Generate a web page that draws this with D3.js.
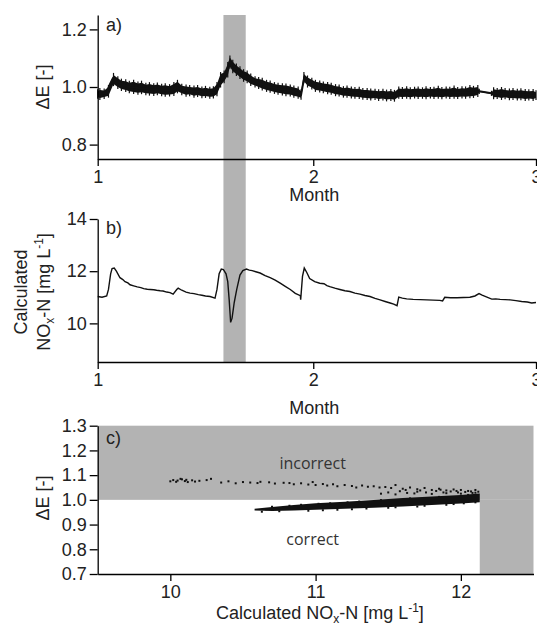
<!DOCTYPE html>
<html>
<head>
<meta charset="utf-8">
<script src="https://cdn.jsdelivr.net/npm/d3@7"></script>
<style>
  body { margin: 0; background: #fff; }
  svg { font-family: "Liberation Sans", Arial, sans-serif; }
  .domain, .tick line { stroke: #000; stroke-width: 1.3; }
  .tick text { fill: #222; }
</style>
</head>
<body>
<div id="chart"></div>
<script>
// month ticks (days since start of month 1)
const monthTicks = [0, 30, 61];
const monthLabels = ["1", "2", "3"];
const highlight = [17.5, 20.6];

// panel a: delta E, centre trace [day, value]
const dE = [[0,0.977],[1.2,0.978],[1.7,1.01],[2.1,1.03],[2.6,1.02],[3.5,1.008],[4.5,1.0],[5.9,0.996],[7.3,0.992],[9,0.99],
  [10.4,0.988],[11,1.0],[11.6,0.99],[13,0.986],[15,0.982],[16.3,0.98],[16.8,1.0],[17.4,1.035],[17.9,1.05],[18.4,1.09],
  [18.9,1.075],[19.6,1.055],[20.7,1.035],[22.6,1.012],[24,1.0],[25.4,0.993],[26.8,0.988],[28.1,0.978],[28.3,0.972],
  [28.75,1.035],[29.5,1.02],[30.9,1.003],[32.3,0.995],[33.7,0.988],[35.1,0.983],[36.5,0.979],[37.9,0.975],[39.3,0.972],
  [41.5,0.97],[41.9,0.98],[44.9,0.979],[47.6,0.979],[50.4,0.98],[52.5,0.982],[53.1,0.985],[54.8,0.978],[57.4,0.975],[61,0.971]];
// noise envelope [day, low, high]
const dENoise = [[0,0.966,0.985],[0.3,0.962,0.99],[0.9,0.965,0.988],[1.5,0.97,1.0],[2.2,1.01,1.042],[2.8,1.0,1.03],[3.3,0.993,1.022],[3.9,0.99,1.02],
  [4.4,0.985,1.015],[5.0,0.983,1.018],[5.6,0.98,1.012],[6.1,0.982,1.015],[6.7,0.978,1.008],[7.2,0.977,1.01],[7.8,0.976,1.006],
  [8.3,0.978,1.009],[8.9,0.975,1.004],[9.4,0.973,1.006],[10.0,0.974,1.003],[10.6,0.976,1.01],[11.1,0.985,1.018],[11.7,0.978,1.004],
  [12.3,0.973,1.002],[12.8,0.975,1.0],[13.4,0.97,0.998],[13.9,0.972,1.0],[14.5,0.968,0.995],[15.0,0.969,0.997],[15.6,0.966,0.994],
  [16.1,0.967,0.996],[16.6,0.975,1.01],[17.1,1.005,1.045],[17.6,1.02,1.05],[18.1,1.04,1.08],[18.4,1.07,1.102],[18.8,1.055,1.088],
  [19.3,1.045,1.075],[19.8,1.035,1.065],[20.3,1.025,1.055],[20.8,1.02,1.05],[21.3,1.01,1.04],[21.9,1.005,1.03],[22.4,1.0,1.028],
  [22.9,0.995,1.025],[23.5,0.99,1.018],[24.0,0.987,1.016],[24.6,0.983,1.01],[25.1,0.98,1.008],[25.7,0.977,1.006],[26.2,0.975,1.005],
  [26.8,0.974,1.002],[27.3,0.97,0.998],[27.9,0.966,0.995],[28.3,0.963,0.985],[28.7,1.02,1.045],[29.2,1.005,1.033],[29.8,0.998,1.025],[30.3,0.99,1.018],
  [30.9,0.988,1.016],[31.4,0.985,1.012],[32.0,0.982,1.01],[32.5,0.98,1.008],[33.1,0.975,1.003],[33.6,0.974,1.002],[34.2,0.97,0.996],
  [34.7,0.97,0.998],[35.3,0.967,0.995],[35.8,0.966,0.993],[36.4,0.965,0.994],[36.9,0.963,0.99],[37.5,0.962,0.99],[38.0,0.96,0.988],
  [38.6,0.962,0.987],[39.1,0.958,0.985],[39.7,0.96,0.987],[40.2,0.957,0.984],[40.8,0.958,0.986],[41.3,0.956,0.983],[41.9,0.966,0.995],
  [42.4,0.965,0.993],[43.0,0.966,0.996],[43.5,0.964,0.992],[44.1,0.967,0.994],[44.6,0.965,0.995],[45.2,0.966,0.992],[45.7,0.964,0.996],
  [46.3,0.967,0.993],[46.8,0.965,0.994],[47.4,0.966,0.997],[47.9,0.964,0.993],[48.5,0.967,0.995],[49.0,0.965,0.994],[49.6,0.966,0.998],
  [50.1,0.965,0.993],[50.7,0.967,0.996],[51.2,0.966,0.995],[51.8,0.968,1.0],[52.3,0.969,0.997],[52.9,0.972,1.0],[53.1,0.983,0.987],
  [54.8,0.976,0.98],[55.1,0.964,0.992],[55.6,0.965,0.99],[56.2,0.962,0.993],[56.7,0.964,0.99],[57.3,0.961,0.988],[57.8,0.962,0.99],
  [58.4,0.96,0.987],[58.9,0.961,0.989],[59.5,0.958,0.986],[60.0,0.96,0.985],[60.6,0.958,0.986],[61,0.962,0.982]];

// panel b: calculated NOx-N [day, mg/L]
const nox = [[0,11.03],[0.6,11.0],[1.25,11.05],[1.5,11.3],[1.8,11.9],[2.0,12.1],[2.3,12.12],[2.6,12.0],[3.1,11.75],[3.5,11.68],
  [3.8,11.6],[4.2,11.55],[4.5,11.48],[5.0,11.44],[5.5,11.4],[6.0,11.37],[6.4,11.33],[6.9,11.31],[7.3,11.3],[7.8,11.29],[8.2,11.27],
  [8.7,11.25],[9.1,11.24],[9.6,11.2],[10.06,11.18],[10.5,11.12],[11.0,11.3],[11.2,11.35],[11.7,11.27],[12.3,11.2],[12.85,11.16],
  [13.4,11.14],[14,11.1],[14.5,11.08],[15,11.05],[15.64,11.03],[16.33,10.97],[16.6,11.3],[16.9,11.9],[17.2,12.08],[17.5,12.06],
  [17.86,11.9],[18.1,11.6],[18.3,10.9],[18.5,10.04],[18.7,10.2],[19.0,10.8],[19.35,11.3],[19.8,11.85],[20.2,12.02],[20.7,12.08],
  [21.1,12.04],[21.5,12.02],[22.0,11.98],[22.6,11.93],[23.3,11.83],[24,11.75],[24.7,11.66],[25.4,11.54],[26.1,11.42],[26.8,11.3],
  [27.5,11.15],[28.2,11.06],[28.25,10.91],[28.5,11.8],[28.75,12.12],[29.1,11.95],[29.5,11.72],[30.2,11.6],[30.9,11.54],[31.5,11.52],
  [31.9,11.45],[32.3,11.41],[33.0,11.35],[33.7,11.3],[34.4,11.25],[35.1,11.22],[35.8,11.16],[36.5,11.12],[37.2,11.07],[37.9,11.03],
  [38.6,10.96],[39.3,10.9],[40.0,10.84],[40.7,10.78],[41.2,10.74],[41.66,10.68],[41.9,11.01],[42.4,10.97],[43,10.94],[43.9,10.92],
  [44.9,10.91],[45.8,10.9],[46.7,10.89],[47.6,10.88],[48.0,10.86],[48.3,11.0],[49.1,10.98],[50,10.98],[50.9,10.99],[51.8,11.0],
  [52.5,11.05],[53.07,11.14],[53.5,11.08],[54.84,10.93],[55.4,10.94],[56,10.92],[56.7,10.91],[57.4,10.9],[58.2,10.87],[59,10.84],
  [59.8,10.82],[60.4,10.78],[61,10.8]];

// panel c: scatter of delta E vs NOx-N
const scatterPts = [[10.0,1.075],[10.02,1.08],[10.04,1.073],[10.05,1.078],[10.07,1.085],[10.08,1.083],[10.1,1.076],[10.11,1.081],
  [10.12,1.072],[10.15,1.079],[10.17,1.074],[10.2,1.077],[10.25,1.08],[10.28,1.085],[10.35,1.07],[10.4,1.075],[10.45,1.067],
  [10.5,1.072],[10.55,1.07],[10.6,1.068],[10.62,1.073],[10.68,1.071],[10.72,1.066],[10.78,1.069],[10.82,1.068],[10.85,1.063],
  [10.9,1.067],[10.95,1.062],[10.98,1.072],[11.0,1.06],[11.05,1.064],[11.08,1.058],[11.12,1.063],[11.15,1.055],[11.2,1.06],
  [11.25,1.056],[11.28,1.05],[11.32,1.058],[11.36,1.053],[11.4,1.055],[11.44,1.05],[11.48,1.052],[11.52,1.048],[11.55,1.06],
  [11.6,1.045],[11.65,1.05],[11.7,1.043],[11.75,1.048],[11.8,1.04],[11.85,1.045],[11.9,1.038],[11.95,1.042],[12.0,1.04],
  [12.05,1.036],[12.1,1.04],[11.5,1.03],[11.58,1.035],[11.63,1.028],[11.7,1.033],[11.76,1.03],[11.83,1.036],[11.88,1.03],
  [11.93,1.034],[11.98,1.03],[12.03,1.032],[12.08,1.028],[12.12,1.033],[11.45,1.025],[11.55,1.022],[11.68,1.026],[11.8,1.024],
  [11.9,1.027],[12.0,1.025],[12.1,1.029],[11.62,1.04],[11.72,1.038],[11.86,1.041],[11.97,1.036],[12.07,1.034],
  [10.63,0.952],[10.66,0.962],[10.7,0.972],[10.75,0.954],[10.82,0.976],[10.9,0.98],[10.95,0.956],[11.02,0.984],[11.1,0.986],
  [11.15,0.96],[11.22,0.99],[11.3,0.993],[11.35,0.965],[11.45,0.999],[11.55,0.97],[11.65,1.006],[11.75,0.976],[11.85,1.012],
  [11.95,0.983],[12.05,1.02],[12.1,0.99],[11.05,0.958],[11.25,0.962],[11.5,0.968],[11.7,0.973],[11.9,0.98],[12.02,0.986]];
// dense core of the scatter [NOx, low, high]
const scatterCore = [[10.58,0.957,0.964],[10.7,0.955,0.971],[10.85,0.957,0.979],[11.0,0.96,0.986],[11.2,0.964,0.992],
  [11.4,0.968,0.999],[11.6,0.973,1.007],[11.8,0.979,1.014],[12.0,0.985,1.02],[12.13,0.99,1.026]];
const dELimit = 1.0;
const noxLimit = 12.13;

const W = 537, H = 625, grey = "#b3b3b3";
const svg = d3.select("#chart").append("svg").attr("width", W).attr("height", H);

const xDay = d3.scaleLinear().domain([0, 61]).range([97.7, 536]);
const yA = d3.scaleLinear().domain([0.75, 1.25]).range([159, 15]);
const yB = d3.scaleLinear().domain([8.52, 14]).range([362, 219]);
const xC = d3.scaleLinear().domain([9.5, 12.5]).range([97.7, 533.5]);
const yC = d3.scaleLinear().domain([0.7, 1.3]).range([574, 425.7]);

// highlighted period across a and b
svg.append("rect")
    .attr("x", xDay(highlight[0])).attr("width", xDay(highlight[1]) - xDay(highlight[0]))
    .attr("y", yA.range()[1]).attr("height", yB.range()[0] - yA.range()[1])
    .attr("fill", grey);

function monthAxis(y, yScale, ticks, fmt) {
    svg.append("g").attr("transform", `translate(0,${yScale.range()[0]})`)
        .call(d3.axisBottom(xDay).tickValues(monthTicks).tickFormat((d, i) => monthLabels[i])
            .tickSize(7).tickSizeOuter(0).tickPadding(4));
    svg.append("g").attr("transform", `translate(${xDay.range()[0]},0)`)
        .call(d3.axisLeft(yScale).tickValues(ticks).tickFormat(fmt).tickSize(8).tickSizeOuter(0).tickPadding(3));
    svg.append("text").attr("x", xDay(30) + 1).attr("y", y).attr("text-anchor", "middle")
        .attr("font-size", 18).attr("fill", "#222").text("Month");
}

// panel a: noise envelope, its spikes and the centre trace
svg.append("path").datum(dENoise).attr("fill", "#111")
    .attr("d", d3.area().x(d => xDay(d[0])).y0(d => yA(d[1])).y1(d => yA(d[2])));
svg.append("g").selectAll("line").data(dENoise).join("line")
    .attr("x1", d => xDay(d[0])).attr("x2", d => xDay(d[0]))
    .attr("y1", d => yA(d[1]) + 2).attr("y2", d => yA(d[2]) - 2)
    .attr("stroke", "#111").attr("stroke-width", 1.2);
svg.append("path").datum(dE)
    .attr("fill", "none").attr("stroke", "#111").attr("stroke-width", 2).attr("stroke-linejoin", "round")
    .attr("d", d3.line().x(d => xDay(d[0])).y(d => yA(d[1])));
monthAxis(201, yA, [0.8, 1.0, 1.2], d3.format(".1f"));

// panel b
svg.append("path").datum(nox)
    .attr("fill", "none").attr("stroke", "#111").attr("stroke-width", 1.4)
    .attr("d", d3.line().x(d => xDay(d[0])).y(d => yB(d[1])));
monthAxis(414, yB, [10, 12, 14], d3.format("d"));

// panel c
svg.append("rect").attr("x", xC(9.5)).attr("y", yC(1.3))
    .attr("width", xC(12.5) - xC(9.5)).attr("height", yC(dELimit) - yC(1.3)).attr("fill", grey);
svg.append("rect").attr("x", xC(noxLimit)).attr("y", yC(dELimit))
    .attr("width", xC(12.5) - xC(noxLimit)).attr("height", yC(0.7) - yC(dELimit)).attr("fill", grey);
svg.append("path").datum(scatterCore).attr("fill", "#111")
    .attr("d", d3.area().x(d => xC(d[0])).y0(d => yC(d[1])).y1(d => yC(d[2])));
svg.append("g").selectAll("rect").data(scatterPts).join("rect")
    .attr("x", d => xC(d[0]) - 1).attr("y", d => yC(d[1]) - 1)
    .attr("width", 2).attr("height", 2).attr("fill", "#111");
svg.append("g").attr("transform", `translate(0,${yC.range()[0]})`)
    .call(d3.axisBottom(xC).tickValues([10, 11, 12]).tickFormat(d3.format("d")).tickSize(7).tickSizeOuter(0).tickPadding(4));
svg.append("g").attr("transform", `translate(${xC.range()[0]},0)`)
    .call(d3.axisLeft(yC).tickValues([0.7, 0.8, 0.9, 1.0, 1.1, 1.2, 1.3]).tickFormat(d3.format(".1f"))
        .tickSize(8).tickSizeOuter(0).tickPadding(3));

svg.selectAll(".tick text").attr("font-size", 18);

const region = svg.append("g").attr("font-family", "'Open Sans', sans-serif").attr("font-size", 16).attr("fill", "#333")
    .attr("text-anchor", "middle");
region.append("text").attr("x", xC(10.98)).attr("y", yC(1.15) + 6).text("incorrect");
region.append("text").attr("x", xC(10.98)).attr("y", yC(0.84) + 6).text("correct");

// panel letters
[["a)", 25], ["b)", 228], ["c)", 438]].forEach(([t, y]) => {
    svg.append("text").attr("x", 106).attr("y", y + 6).attr("font-size", 18).attr("fill", "#222").text(t);
});

// axis titles
function yTitle(x, cy) {
    return svg.append("text").attr("transform", `translate(${x},${cy}) rotate(-90)`)
        .attr("text-anchor", "middle").attr("font-size", 18).attr("fill", "#222");
}
yTitle(49, 87).text("ΔE [-]");
yTitle(49, 498).text("ΔE [-]");
yTitle(27, 292).text("Calculated");
const noxT = yTitle(50, 292);
noxT.append("tspan").text("NO");
noxT.append("tspan").attr("font-size", 12).attr("dy", 4).text("x");
noxT.append("tspan").attr("dy", -4).text("-N [mg L");
noxT.append("tspan").attr("font-size", 12).attr("dy", -7).text("-1");
noxT.append("tspan").attr("dy", 7).text("]");

const xt = svg.append("text").attr("x", 320).attr("y", 619).attr("text-anchor", "middle")
    .attr("font-size", 18).attr("fill", "#222");
xt.append("tspan").text("Calculated NO");
xt.append("tspan").attr("font-size", 12).attr("dy", 4).text("x");
xt.append("tspan").attr("dy", -4).text("-N [mg L");
xt.append("tspan").attr("font-size", 12).attr("dy", -7).text("-1");
xt.append("tspan").attr("dy", 7).text("]");
</script>
</body>
</html>
